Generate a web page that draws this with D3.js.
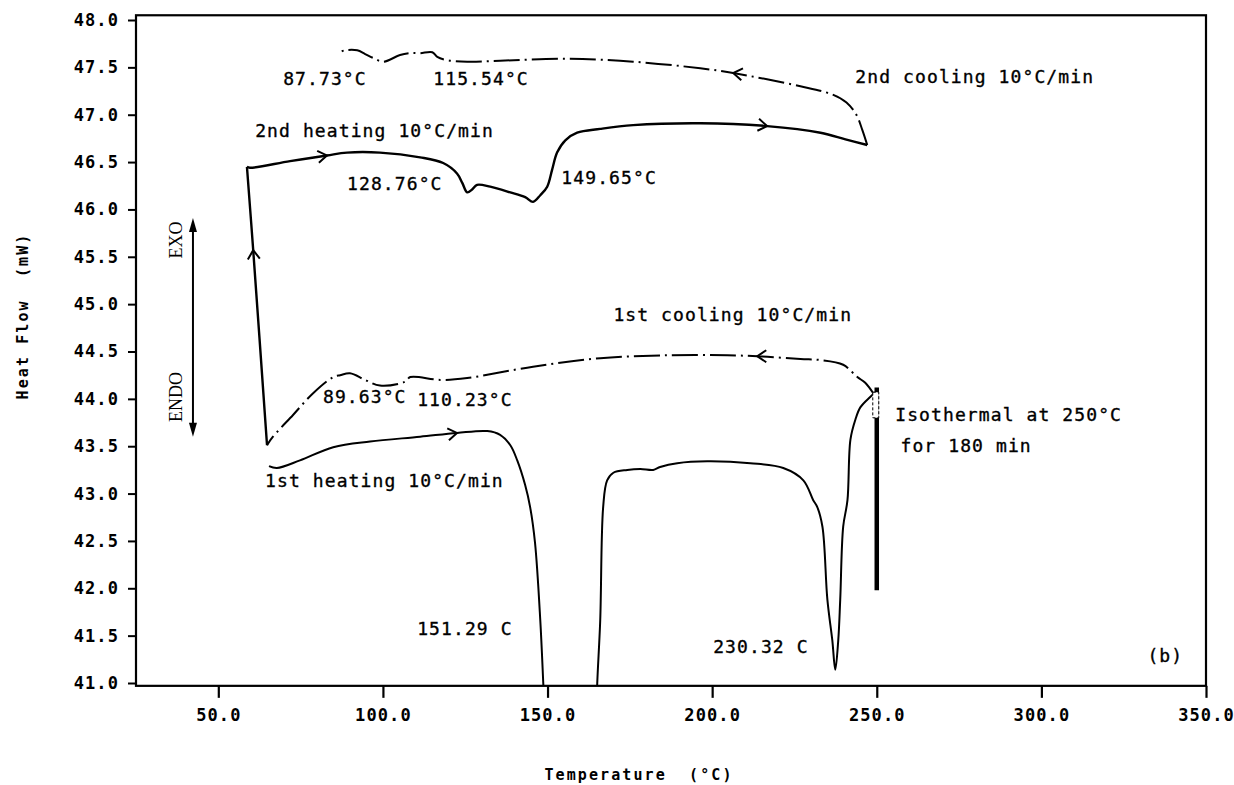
<!DOCTYPE html>
<html lang="en">
<head>
<meta charset="UTF-8">
<title>DSC thermogram (b)</title>
<script src="https://cdn.jsdelivr.net/npm/d3@7"></script>
<style>
  body { margin: 0; background: #fff; }
  svg text { fill: #000; }
  .tick text { font-family: "DejaVu Sans Mono", monospace; font-weight: bold; font-size: 17px; letter-spacing: 1.1px; }
  .note { font-family: "DejaVu Sans Mono", monospace; font-size: 18px; letter-spacing: 1.1px; stroke: #000; stroke-width: 0.35px; }
  .title { font-family: "DejaVu Sans Mono", monospace; font-weight: bold; font-size: 15px; letter-spacing: 2.1px; white-space: pre; }
  .serif { font-family: "Liberation Serif", serif; font-size: 18px; }
</style>
</head>
<body>
<script>
// temperature (C) and heat flow (mW)
var heat1T = [65.4,67.8,74.8,84.9,96.1,111.3,122.5,131.7,135.6,138.7,140.8,143.2,144.7,146.2,147.8,148.7,149.2];
var heat1H = [43.29,43.27,43.35,43.49,43.55,43.60,43.64,43.66,43.62,43.51,43.35,43.09,42.86,42.48,41.66,41.0,40.6];
var heat1bT = [164.8,165.1,166.0,166.9,168.1,170.0,174.2,178.2,182.1,184.2,189.4,198.5,211.6,221.6,227.7,230.7,231.9,233.5,235.0,236.5,237.4,238.3,238.9,239.8,241.1,242.0,243.5,245.0,248.0,249.6];
var heat1bH = [40.6,41.0,41.66,42.86,43.14,43.22,43.25,43.26,43.25,43.28,43.32,43.34,43.32,43.27,43.14,42.93,42.86,42.65,41.88,41.45,41.14,41.45,41.88,42.65,42.93,43.57,43.78,43.91,44.02,44.07];
var isoT = [250,250];
var isoH = [44.12,41.98];
var cool1T = [249.3,246.5,244.1,239.8,232.9,226.8,213.7,204.6,186.4,166.0,145.6,125.6,117.4,108.3,106.7,99.1,94.6,90.0,87.0,84.9,78.8,72.7,66.6,64.8];
var cool1H = [44.04,44.17,44.23,44.36,44.41,44.42,44.45,44.46,44.46,44.43,44.34,44.22,44.20,44.23,44.18,44.14,44.20,44.27,44.25,44.23,44.06,43.83,43.60,43.51];
var riseT = [64.8,60.6,58.7];
var riseH = [43.51,45.57,46.45];
var heat2T = [58.7,59.6,71.8,83.0,89.1,99.1,111.3,118.3,122.5,124.1,125.6,127.1,128.6,132.6,138.7,143.2,145.6,147.8,149.9,151.4,152.9,155.4,159.0,166.0,176.0,196.4,216.7,232.9,240.5,247.1];
var heat2H = [46.45,46.44,46.51,46.57,46.60,46.60,46.55,46.49,46.38,46.28,46.18,46.21,46.26,46.24,46.18,46.13,46.08,46.15,46.24,46.42,46.60,46.73,46.81,46.85,46.89,46.91,46.88,46.81,46.74,46.68];
var cool2T = [247.1,245.6,243.8,240.8,236.8,226.8,206.4,196.4,176.0,156.0,135.6,125.6,118.9,116.5,115.0,111.3,108.3,105.2,100.1,97.0,94.6,92.2,88.5,86.1];
var cool2H = [46.68,46.84,47.00,47.13,47.21,47.30,47.44,47.49,47.56,47.59,47.57,47.56,47.58,47.61,47.66,47.65,47.65,47.63,47.56,47.60,47.64,47.68,47.68,47.65];

var yTicks = [41.0,41.5,42.0,42.5,43.0,43.5,44.0,44.5,45.0,45.5,46.0,46.5,47.0,47.5,48.0];
var xTicks = [50,100,150,200,250,300,350];

// direction arrows on the curves: [T, H, T ahead, H ahead]
var arrows = [
  [122.5,43.64,124.5,43.65],
  [83.0,46.57,85.0,46.58],
  [216.7,46.88,218.7,46.87],
  [213.7,44.45,211.7,44.45],
  [206.4,47.44,204.4,47.45],
  [60.6,45.57,60.4,45.67]
];

var notes = [
  ["87.73°C",69.7,47.31],
  ["115.54°C",115.3,47.31],
  ["2nd cooling 10°C/min",243.5,47.33],
  ["2nd heating 10°C/min",61.2,46.76],
  ["128.76°C",89.1,46.21],
  ["149.65°C",154.2,46.27],
  ["1st cooling 10°C/min",170.0,44.82],
  ["89.63°C",81.8,43.96],
  ["110.23°C",110.4,43.92],
  ["Isothermal at 250°C",255.6,43.77],
  ["for 180 min",257.2,43.44],
  ["1st heating 10°C/min",64.2,43.07],
  ["151.29 C",110.4,41.51],
  ["230.32 C",200.3,41.32],
  ["(b)",332.2,41.22]
];

var width = 1234, height = 785;
var svg = d3.select("body").append("svg").attr("width",width).attr("height",height);

var x = d3.scaleLinear().domain([25,350]).range([136,1206]);
var y = d3.scaleLinear().domain([41,48]).range([683,20]);

// frame
svg.append("rect")
  .attr("x",x(25)).attr("y",y(48.05))
  .attr("width",x(350)-x(25)).attr("height",y(40.97)-y(48.05))
  .attr("fill","none").attr("stroke","#000").attr("stroke-width",2.2);

svg.append("defs").append("clipPath").attr("id","plot")
  .append("rect").attr("x",x(25)).attr("y",y(48.05))
  .attr("width",x(350)-x(25)).attr("height",y(40.97)-y(48.05));

// axes
var yAxis = d3.axisLeft(y).tickValues(yTicks).tickFormat(d3.format(".1f")).tickSize(8).tickSizeOuter(0).tickPadding(9);
var gy = svg.append("g").attr("transform","translate("+x(25)+",0)").call(yAxis);
gy.select(".domain").remove();
gy.selectAll(".tick line").attr("stroke-width",2);

var xAxis = d3.axisBottom(x).tickValues(xTicks).tickFormat(d3.format(".1f")).tickSize(12).tickSizeOuter(0).tickPadding(8);
var gx = svg.append("g").attr("transform","translate(0,"+y(40.97)+")").call(xAxis);
gx.select(".domain").remove();
gx.selectAll(".tick line").attr("stroke-width",2.2);
gx.selectAll(".tick text").attr("dy","0.9em");

svg.append("text").attr("class","title")
  .attr("transform","translate(28,316) rotate(-90)")
  .attr("text-anchor","middle").text("Heat Flow  (mW)");
svg.append("text").attr("class","title")
  .attr("x",639).attr("y",780).attr("text-anchor","middle").text("Temperature  (°C)");

// curves
var line = d3.line().x(function(d){return x(d[0]);}).y(function(d){return y(d[1]);}).curve(d3.curveCatmullRom.alpha(0.5));
function pts(t,h){ return t.map(function(v,i){return [v,h[i]];}); }
var plot = svg.append("g").attr("clip-path","url(#plot)");

var series = [
  {d:pts(heat1T,heat1H), dash:null, w:2},
  {d:pts(heat1bT,heat1bH), dash:null, w:2},
  {d:pts(riseT,riseH), dash:null, w:2.4},
  {d:pts(heat2T,heat2H), dash:null, w:2.4},
  {d:pts(cool1T,cool1H), dash:"26,5,2,5", w:2},
  {d:pts(cool2T,cool2H), dash:"26,5,2,5", w:2},
  {d:pts(isoT,isoH), dash:null, w:4.5}
];
plot.selectAll("path.curve").data(series).enter().append("path")
  .attr("class","curve")
  .attr("d",function(s){return line(s.d);})
  .attr("fill","none").attr("stroke","#000")
  .attr("stroke-width",function(s){return s.w;})
  .attr("stroke-dasharray",function(s){return s.dash;})
  .attr("stroke-linejoin","round");

// open rectangle on the isothermal line
svg.append("rect").attr("x",x(250)-4).attr("y",y(44.07)).attr("width",6).attr("height",y(43.8)-y(44.07))
  .attr("fill","#fff").attr("stroke","#000").attr("stroke-width",1).attr("stroke-dasharray","3,2");

// chevrons
svg.selectAll("path.arr").data(arrows).enter().append("path")
  .attr("class","arr")
  .attr("d","M-9,-6 L0,0 L-9,6")
  .attr("fill","none").attr("stroke","#000").attr("stroke-width",2)
  .attr("transform",function(a){
    var ang = Math.atan2(y(a[3])-y(a[1]), x(a[2])-x(a[0]))*180/Math.PI;
    return "translate("+x(a[0])+","+y(a[1])+") rotate("+ang+")";
  });

// EXO / ENDO
var ax = x(42.3);
svg.append("line").attr("x1",ax).attr("x2",ax).attr("y1",y(45.85)).attr("y2",y(43.66))
  .attr("stroke","#000").attr("stroke-width",2);
svg.append("path").attr("d","M"+ax+","+y(45.91)+" l-4,14 l8,0 z");
svg.append("path").attr("d","M"+ax+","+y(43.60)+" l-4,-14 l8,0 z");
svg.append("text").attr("class","serif").attr("text-anchor","middle")
  .attr("transform","translate(182,240) rotate(-90)").text("EXO");
svg.append("text").attr("class","serif").attr("text-anchor","middle")
  .attr("transform","translate(182,397) rotate(-90)").text("ENDO");

// notes
svg.selectAll("text.note").data(notes).enter().append("text")
  .attr("class","note")
  .attr("x",function(n){return x(n[1]);})
  .attr("y",function(n){return y(n[2]);})
  .text(function(n){return n[0];});
</script>
</body>
</html>
